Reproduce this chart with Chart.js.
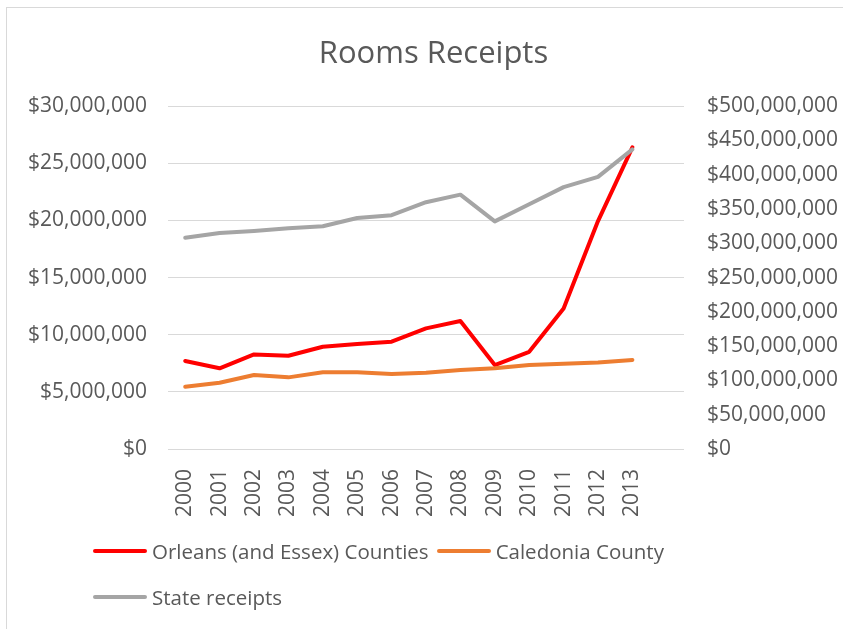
<!DOCTYPE html>
<html>
<head>
<meta charset="utf-8">
<script src="https://cdn.jsdelivr.net/npm/chart.js@4.4.1/dist/chart.umd.min.js"></script>
<style>
    html, body { margin: 0; padding: 0; background: #fff; overflow: hidden; }
    #wrap { position: relative; width: 843px; height: 629px; }
    #frame {
        position: absolute; left: 6px; top: 7px; width: 900px; height: 700px;
        border-left: 1px solid #d9d9d9; border-top: 1px solid #d9d9d9;
    }
    #legend {
        position: absolute; left: 93px; top: 528px; width: 620px;
        display: flex; flex-wrap: wrap;
        font-family: "Open Sans", sans-serif; font-size: 20.5px; color: #595959;
    }
    .item { display: flex; align-items: center; height: 46px; margin-right: 8px; }
    .swatch { width: 54px; height: 4px; border-radius: 2px; margin-right: 5px; }
</style>
</head>
<body>
<div id="wrap">
    <div id="frame"></div>
    <canvas id="chart" width="843" height="629"></canvas>
    <div id="legend"></div>
</div>
<script>
const years = ["2000", "2001", "2002", "2003", "2004", "2005", "2006",
               "2007", "2008", "2009", "2010", "2011", "2012", "2013"];

const orleans   = [7700000, 7060000, 8280000, 8160000, 8950000, 9190000, 9390000,
                   10560000, 11200000, 7350000, 8510000, 12300000, 19950000, 26400000];
const caledonia = [5450000, 5800000, 6470000, 6270000, 6710000, 6710000, 6560000,
                   6680000, 6910000, 7060000, 7350000, 7460000, 7580000, 7790000];
const state     = [308000000, 315000000, 318000000, 322000000, 325000000, 337000000, 341000000,
                   360000000, 371000000, 332000000, 357000000, 382000000, 397000000, 437000000];

const seriesNames  = ["Orleans (and Essex) Counties", "Caledonia County", "State receipts"];
const seriesColors = ["#ff0000", "#ed7d31", "#a5a5a5"];

const textColor = "#595959";
const font = "'Open Sans', sans-serif";

const money = v => "$" + Number(v).toLocaleString("en-US");

function lineSet(i, data, axis, order) {
    return {
        label: seriesNames[i],
        data: data,
        yAxisID: axis,
        borderColor: seriesColors[i],
        backgroundColor: seriesColors[i],
        borderWidth: 4,
        borderCapStyle: "round",
        borderJoinStyle: "round",
        pointRadius: 0,
        tension: 0,
        order: order
    };
}

const chart = new Chart(document.getElementById("chart"), {
    type: "line",
    data: {
        // trailing empty category leaves the gap Excel shows after 2013
        labels: [...years, ""],
        datasets: [
            lineSet(0, orleans, "y", 3),
            lineSet(1, caledonia, "y", 2),
            lineSet(2, state, "y1", 1)
        ]
    },
    options: {
        responsive: false,
        animation: false,
        layout: { padding: { left: 24, right: 0, top: 0, bottom: 0 } },
        plugins: {
            legend: { display: false },
            tooltip: { enabled: false },
            title: {
                display: true,
                text: "Rooms Receipts",
                color: textColor,
                font: { family: font, size: 31, weight: "normal", lineHeight: 1.2 },
                padding: { top: 36, bottom: 33 }
            }
        },
        scales: {
            x: {
                offset: true,
                grid: { display: false },
                border: { display: false },
                ticks: {
                    color: textColor,
                    font: { family: font, size: 21 },
                    minRotation: 90,
                    maxRotation: 90,
                    autoSkip: false,
                    padding: 12
                },
                afterFit: s => { s.height = 180; }
            },
            y: {
                position: "left",
                min: 0,
                max: 30000000,
                grid: { color: "#d9d9d9", lineWidth: 1, drawTicks: false },
                border: { display: false },
                ticks: {
                    stepSize: 5000000,
                    color: textColor,
                    font: { family: font, size: 21 },
                    padding: 21,
                    callback: money
                },
                afterFit: s => { s.width = 144; }
            },
            y1: {
                position: "right",
                min: 0,
                max: 500000000,
                grid: { display: false, drawTicks: false },
                border: { display: false },
                ticks: {
                    stepSize: 50000000,
                    color: textColor,
                    font: { family: font, size: 21 },
                    padding: 23,
                    callback: money
                },
                afterFit: s => { s.width = 159; }
            }
        }
    }
});

// legend, built from the chart's datasets
const legend = document.getElementById("legend");
chart.data.datasets.forEach(ds => {
    const item = document.createElement("div");
    item.className = "item";
    const sw = document.createElement("span");
    sw.className = "swatch";
    sw.style.background = ds.borderColor;
    const txt = document.createElement("span");
    txt.textContent = ds.label;
    item.appendChild(sw);
    item.appendChild(txt);
    legend.appendChild(item);
});
</script>
</body>
</html>
